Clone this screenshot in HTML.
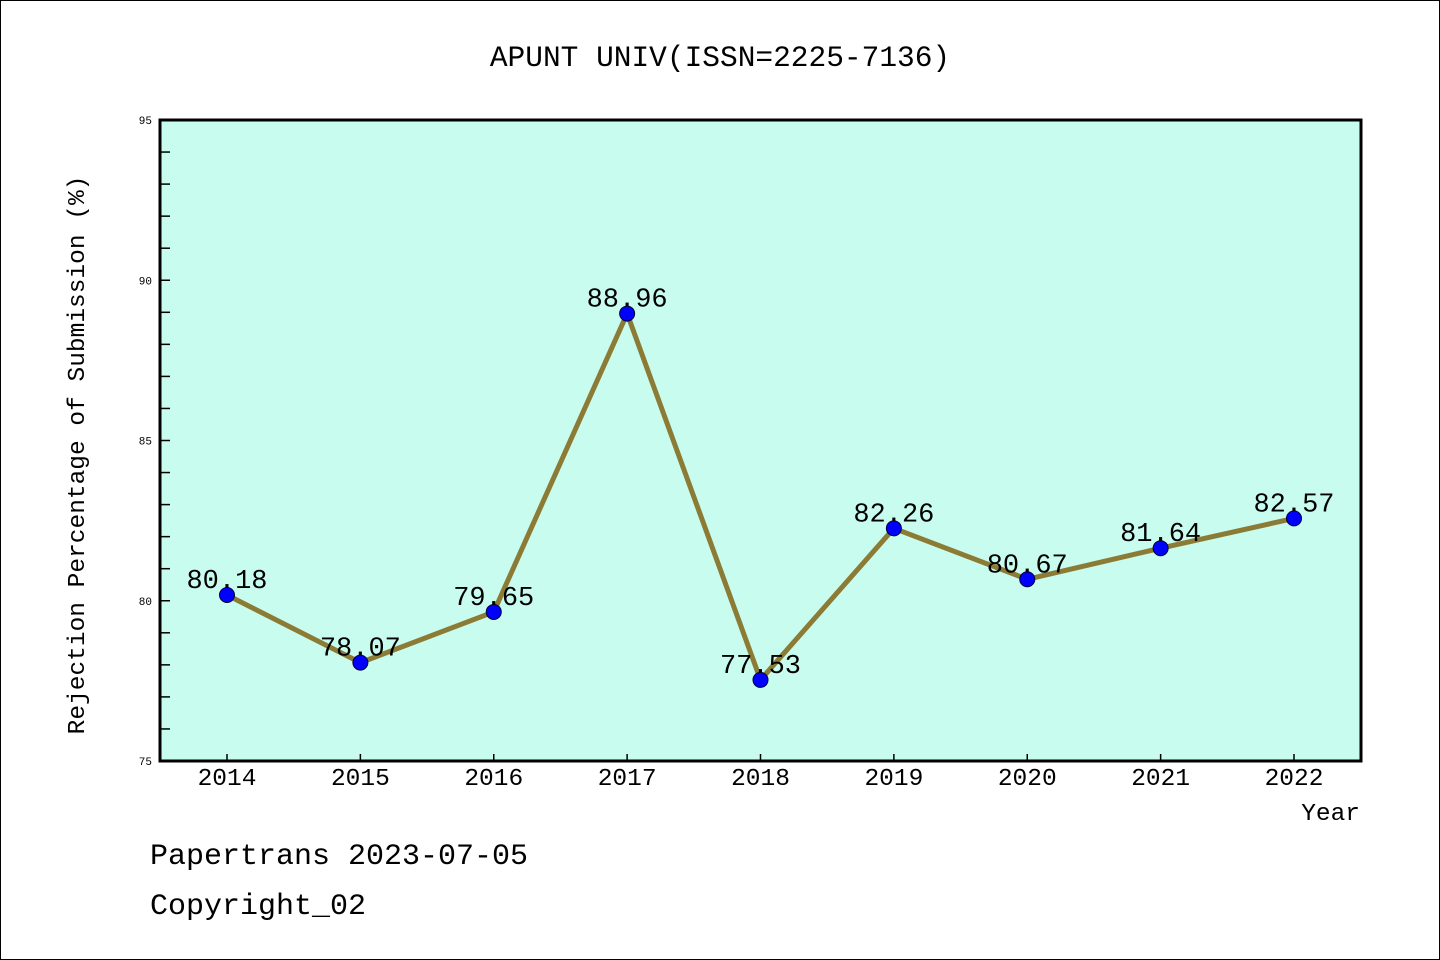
<!DOCTYPE html>
<html><head><meta charset="utf-8">
<style>
html,body{margin:0;padding:0;background:#fff}
svg{display:block}
text{font-family:"Liberation Mono",monospace;fill:#000}
</style></head><body>
<svg id="chart" width="1440" height="960" xmlns="http://www.w3.org/2000/svg">
<rect x="0.5" y="0.5" width="1439" height="959" fill="#fff" stroke="#000" stroke-width="1"/>
<text x="720" y="66" font-size="29.5" text-anchor="middle">APUNT UNIV(ISSN=2225-7136)</text>
<rect x="160" y="120" width="1201" height="641" fill="#c8fcee"/>
<g id="ticks"></g>
<g id="series"></g>
<rect x="160" y="120" width="1201" height="641" fill="none" stroke="#000" stroke-width="3"/>
<text transform="translate(84,455) rotate(-90)" font-size="24.5" text-anchor="middle">Rejection Percentage of Submission (%)</text>
<text x="1360" y="820" font-size="24.5" text-anchor="end">Year</text>
<text x="150" y="864" font-size="30">Papertrans 2023-07-05</text>
<text x="150" y="914" font-size="30">Copyright_02</text>
</svg>
<script>
const years = ['2014','2015','2016','2017','2018','2019','2020','2021','2022'];
const rejection = [80.18,78.07,79.65,88.96,77.53,82.26,80.67,81.64,82.57];
const yTicks = [75,80,85,90,95];
const NS='http://www.w3.org/2000/svg';
const x0=227, dx=(1294-227)/8;
function xs(i){return x0+i*dx;}
function ys(v){return 761-(v-75)*(641/20);}
function mk(t,a,p){const e=document.createElementNS(NS,t);for(const k in a)e.setAttribute(k,a[k]);p.appendChild(e);return e;}
const tg=document.getElementById('ticks'), sg=document.getElementById('series');
for(let v=76;v<95;v++){
  const l=mk('line',{x1:160,x2:170,y1:ys(v),y2:ys(v),stroke:'#000','stroke-width':1.5},tg);
  
  
}
yTicks.forEach(v=>{
  const t=mk('text',{x:152,y:ys(v)+4,'font-size':11,'text-anchor':'end'},tg);
  t.textContent=v;
  
  
});
years.forEach((y,i)=>{
  const l=mk('line',{x1:xs(i),x2:xs(i),y1:754,y2:761,stroke:'#000','stroke-width':1.5},tg);
  
  
  const t=mk('text',{x:xs(i),y:785,'font-size':24.5,'text-anchor':'middle'},tg);
  t.textContent=y;
  
  
});
const pts=rejection.map((v,i)=>xs(i)+','+ys(v)).join(' ');
const pl=mk('polyline',{points:pts,fill:'none',stroke:'#8b7b35','stroke-width':5,'stroke-linejoin':'round'},sg);


rejection.forEach((v,i)=>{
  const c=mk('circle',{cx:xs(i),cy:ys(v),r:7.5,fill:'#0000ff',stroke:'#00003a','stroke-width':1},sg);
  
  
});
rejection.forEach((v,i)=>{
  const t=mk('text',{x:xs(i),y:ys(v)-7,'font-size':27,'text-anchor':'middle'},sg);
  t.textContent=v.toFixed(2);
  
  
});
</script>
</body></html>
